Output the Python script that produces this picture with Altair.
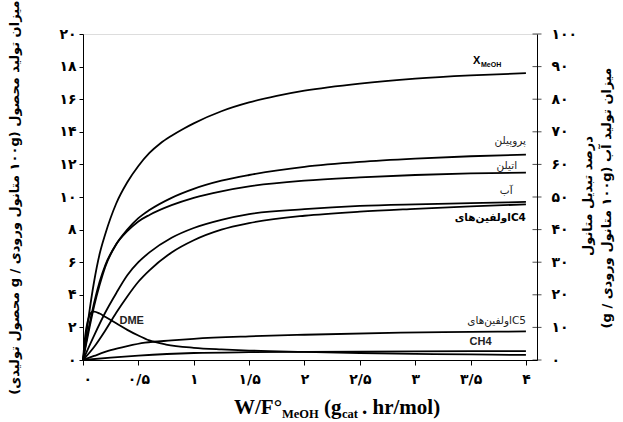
import altair as alt
import pandas as pd

# ---------------- data ----------------
x_ticks = [0, 0.5, 1, 1.5, 2, 2.5, 3, 3.5, 4]
x_tick_labels = ["۰", "۰/۵", "۱", "۱/۵", "۲", "۲/۵", "۳", "۳/۵", "۴"]
y_left_ticks = [0, 2, 4, 6, 8, 10, 12, 14, 16, 18, 20]
y_left_labels = ["۰", "۲", "۴", "۶", "۸", "۱۰", "۱۲", "۱۴", "۱۶", "۱۸", "۲۰"]
y_right_ticks = [0, 10, 20, 30, 40, 50, 60, 70, 80, 90, 100]
y_right_labels = ["۰", "۱۰", "۲۰", "۳۰", "۴۰", "۵۰", "۶۰", "۷۰", "۸۰", "۹۰", "۱۰۰"]

# methanol conversion (%), right axis
xmeoh_x = [0, 0.05, 0.1, 0.15, 0.2, 0.3, 0.4, 0.5, 0.6, 0.7, 0.8, 0.9, 1.0, 1.25, 1.5, 1.75, 2.0, 2.5, 3.0, 3.5, 4.0]
xmeoh_y = [0, 13, 24, 32.5, 38.5, 48, 54.5, 59.5, 63.5, 66.5, 68.8, 70.8, 72.6, 76.3, 79, 81, 82.6, 84.8, 86.3, 87.3, 88]

propylene_x = [0, 0.05, 0.1, 0.15, 0.2, 0.3, 0.4, 0.5, 0.6, 0.8, 1.0, 1.25, 1.5, 2.0, 2.5, 3.0, 3.5, 4.0]
propylene_y = [0, 1.7, 3.3, 4.6, 5.7, 7.1, 8.0, 8.7, 9.2, 9.95, 10.5, 11.0, 11.35, 11.85, 12.15, 12.35, 12.5, 12.6]

ethylene_x = [0, 0.05, 0.1, 0.15, 0.2, 0.3, 0.4, 0.5, 0.6, 0.8, 1.0, 1.25, 1.5, 2.0, 2.5, 3.0, 3.5, 4.0]
ethylene_y = [0, 1.9, 3.5, 4.8, 5.8, 7.1, 7.9, 8.5, 8.9, 9.5, 9.95, 10.35, 10.65, 11.0, 11.2, 11.35, 11.45, 11.5]

water_x = [0, 0.1, 0.2, 0.3, 0.4, 0.5, 0.6, 0.8, 1.0, 1.25, 1.5, 2.0, 2.5, 3.0, 3.5, 4.0]
water_y = [0, 1.5, 2.9, 4.1, 5.2, 6.0, 6.6, 7.5, 8.1, 8.6, 8.95, 9.25, 9.45, 9.55, 9.62, 9.7]

c4_x = [0, 0.1, 0.2, 0.3, 0.4, 0.5, 0.6, 0.8, 1.0, 1.25, 1.5, 2.0, 2.5, 3.0, 3.5, 4.0]
c4_y = [0, 0.8, 1.8, 2.9, 3.9, 4.8, 5.5, 6.6, 7.35, 8.0, 8.4, 8.85, 9.1, 9.27, 9.42, 9.55]

c5_x = [0, 0.1, 0.25, 0.4, 0.56, 0.8, 1.0, 1.5, 2.0, 2.87, 3.5, 4.0]
c5_y = [0, 0.25, 0.6, 0.85, 1.06, 1.2, 1.3, 1.45, 1.55, 1.68, 1.72, 1.75]

ch4_x = [0, 0.25, 0.5, 1.0, 1.5, 2.0, 3.0, 4.0]
ch4_y = [0, 0.15, 0.27, 0.43, 0.48, 0.5, 0.53, 0.55]

dme_x = [0, 0.02, 0.04, 0.06, 0.08, 0.1, 0.15, 0.2, 0.3, 0.4, 0.5, 0.6, 0.75, 1.0, 1.25, 1.5, 2.0, 2.5, 3.0, 3.5, 4.0]
dme_y = [0, 1.5, 2.3, 2.75, 2.95, 2.97, 2.85, 2.65, 2.25, 1.85, 1.5, 1.2, 0.95, 0.75, 0.65, 0.58, 0.5, 0.43, 0.38, 0.34, 0.31]

# curve labels (data coords on left axis)
RLE, PDF = "\u202b", "\u202c"
lab_text = ["پروپیلن", "اتیلن", "آب", "اولفین‌هایC5"]
lab_x = [4.0, 3.92, 3.88, 4.0]
lab_y = [13.45, 11.9, 10.37, 2.4]
center_text = ["DME", "CH4"]
center_x = [0.44, 3.59]
center_y = [2.4, 1.1]
c4_label = "اولفین‌هایC4"

# ---------------- frames ----------------
series = {
    "propylene": (propylene_x, propylene_y),
    "ethylene": (ethylene_x, ethylene_y),
    "water": (water_x, water_y),
    "c4": (c4_x, c4_y),
    "c5": (c5_x, c5_y),
    "ch4": (ch4_x, ch4_y),
    "dme": (dme_x, dme_y),
}
rows = []
for name, (xs, ys) in series.items():
    for xv, yv in zip(xs, ys):
        rows.append({"series": name, "x": xv, "y": yv})
df_left = pd.DataFrame(rows)
df_right = pd.DataFrame({"x": xmeoh_x, "y": xmeoh_y})
df_lab = pd.DataFrame({"x": lab_x, "y": lab_y, "t": lab_text})
df_lab_c = pd.DataFrame({"x": center_x, "y": center_y, "t": center_text})
df_rticks = pd.DataFrame({"v": y_right_ticks})


def label_expr(vals, labels):
    expr = "''"
    for v, l in reversed(list(zip(vals, labels))):
        expr = f"abs(datum.value - {v}) < 1e-6 ? '{l}' : " + expr
    return expr


FONT = "DejaVu Sans"
xscale = alt.Scale(domain=[0, 4.1], nice=False, zero=False)
yl_scale = alt.Scale(domain=[0, 20], nice=False)
yr_scale = alt.Scale(domain=[0, 100], nice=False)

x_axis = alt.Axis(values=x_ticks, labelExpr=label_expr(x_ticks, x_tick_labels), title=None,
                  grid=False, tickSize=5, labelPadding=7, labelFont=FONT, labelFontWeight="bold",
                  labelFontSize=14, labelColor="black", domainColor="black", tickColor="black")
yl_axis = alt.Axis(values=y_left_ticks, labelExpr=label_expr(y_left_ticks, y_left_labels),
                   title=RLE + "میزان تولید محصول (۱۰۰g متانول ورودی / g محصول تولیدی)" + PDF,
                   titleFont=FONT, titleFontWeight="bold", titleFontSize=13, titleColor="black",
                   titlePadding=37, grid=False, tickSize=4, labelPadding=3, labelFont=FONT,
                   labelFontWeight="bold", labelFontSize=14, labelColor="black",
                   domainColor="black", tickColor="black")
yr_axis = alt.Axis(values=y_right_ticks, labelExpr=label_expr(y_right_ticks, y_right_labels),
                   orient="right", title=None, grid=False, ticks=False, labelPadding=14,
                   labelFont=FONT, labelFontWeight="bold", labelFontSize=14, labelColor="black",
                   domainColor="black")

line_style = dict(interpolate="monotone", color="black", strokeWidth=1.8)

left_lines = alt.Chart(df_left).mark_line(**line_style).encode(
    x=alt.X("x:Q", scale=xscale, axis=x_axis),
    y=alt.Y("y:Q", scale=yl_scale, axis=yl_axis),
    detail="series:N",
)

right_line = alt.Chart(df_right).mark_line(**line_style).encode(
    x=alt.X("x:Q", scale=xscale),
    y=alt.Y("y:Q", scale=yr_scale, axis=yr_axis),
)

# right-axis ticks crossing the axis line
rticks = alt.Chart(df_rticks).mark_tick(color="black", thickness=1, size=9).encode(
    x=alt.value(454),
    y=alt.Y("v:Q", scale=yr_scale, axis=None),
)

labels = alt.Chart(df_lab).mark_text(font=FONT, fontSize=10.5, color="#222", align="right").encode(
    x=alt.X("x:Q", scale=xscale),
    y=alt.Y("y:Q", scale=yl_scale, axis=None),
    text="t:N",
)
labels_c = alt.Chart(df_lab_c).mark_text(font="Liberation Sans", fontSize=11, fontWeight="bold",
                                         color="#222", align="center").encode(
    x=alt.X("x:Q", scale=xscale),
    y=alt.Y("y:Q", scale=yl_scale, axis=None),
    text="t:N",
)

c4_lab = alt.Chart(pd.DataFrame({"x": [4.0], "y": [8.7], "t": [c4_label]})).mark_text(
    font=FONT, fontSize=10.5, fontWeight="bold", color="black", align="right"
).encode(
    x=alt.X("x:Q", scale=xscale),
    y=alt.Y("y:Q", scale=yl_scale, axis=None),
    text="t:N",
)

# X_MeOH label
xm1 = alt.Chart(pd.DataFrame({"t": ["X"]})).mark_text(
    font="Liberation Sans", fontSize=11, fontWeight="bold", align="left", baseline="alphabetic"
).encode(x=alt.value(390), y=alt.value(30), text="t:N")
xm2 = alt.Chart(pd.DataFrame({"t": ["MeOH"]})).mark_text(
    font="Liberation Sans", fontSize=7, fontWeight="bold", align="left", baseline="alphabetic"
).encode(x=alt.value(398), y=alt.value(33), text="t:N")

# x-axis title pieces (W/F°MeOH (gcat . hr/mol))
SERIF = "Liberation Serif"
title_pieces = [
    ("W/F°", 21, 151, 380),
    ("MeOH", 12.5, 199, 384),
    ("(g", 21, 241, 380),
    ("cat", 12.5, 259, 384),
    (". hr/mol)", 21, 279, 380),
]
title_layers = []
for t, fs, px, py in title_pieces:
    title_layers.append(
        alt.Chart(pd.DataFrame({"t": [t]})).mark_text(
            font=SERIF, fontSize=fs, fontWeight="bold", align="left", baseline="alphabetic",
            color="black"
        ).encode(x=alt.value(px), y=alt.value(py), text="t:N")
    )

# right axis titles (two rotated lines)
rt1 = alt.Chart(pd.DataFrame({"t": [RLE + "درصد تبدیل متانول" + PDF]})).mark_text(
    font=FONT, fontSize=13, fontWeight="bold", angle=270, color="black"
).encode(x=alt.value(505), y=alt.value(162), text="t:N")
rt2 = alt.Chart(pd.DataFrame({"t": [RLE + "میزان تولید آب (۱۰۰g متانول ورودی / g)" + PDF]})).mark_text(
    font=FONT, fontSize=13, fontWeight="bold", angle=270, color="black"
).encode(x=alt.value(524), y=alt.value(164), text="t:N")

chart = alt.layer(
    left_lines, right_line, rticks, labels, labels_c, c4_lab, xm1, xm2, rt1, rt2, *title_layers
).resolve_scale(y="independent").properties(
    width=454, height=326,
    padding={"left": 83, "top": 34, "right": 86, "bottom": 62},
    autosize=alt.AutoSizeParams(type="none"),
).configure_view(stroke="black", strokeWidth=1).configure(background="white")

chart.save("out.html", embed_options={"renderer": "svg", "actions": False})
